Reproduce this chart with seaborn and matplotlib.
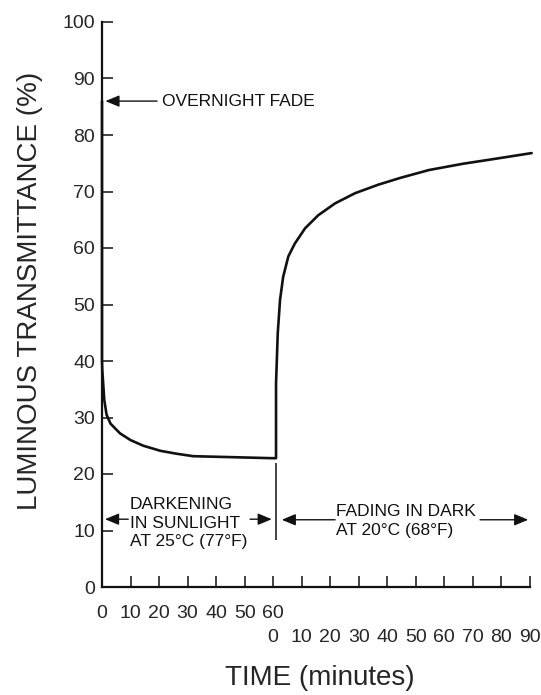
import matplotlib
matplotlib.use("Agg")
import matplotlib.pyplot as plt
import seaborn as sns
import pandas as pd

# ---------------- data ----------------
# darkening in sunlight (minutes 0-60)
dark_time = [0, 0, 0.1, 0.8, 1.6, 3.0, 6.3, 10.0, 14.5, 20.5, 26.0, 32.0, 44.0, 59.5]
dark_trans = [86, 40, 38.4, 33.1, 30.5, 28.9, 27.2, 26.0, 25.0, 24.1, 23.6, 23.15, 23.0, 22.8]
# fading in dark (minutes after the 60-minute exposure)
fade_time = [1.0, 1.0, 1.6, 2.4, 3.5, 5.3, 7.6, 11.2, 15.8, 21.7, 28.7, 36.8, 44.5, 54.6, 66.4, 78.0, 90.6]
fade_trans = [22.8, 36.0, 44.9, 50.8, 54.9, 58.5, 60.8, 63.5, 65.8, 67.9, 69.7, 71.2, 72.4, 73.8, 74.9, 75.8, 76.8]

sun_tick_labels = ["0", "10", "20", "30", "40", "50", "60"]
dark_tick_labels = ["0", "10", "20", "30", "40", "50", "60", "70", "80", "90"]
y_ticks = [0, 10, 20, 30, 40, 50, 60, 70, 80, 90, 100]

sun_text = ["DARKENING", "IN SUNLIGHT", "AT 25°C (77°F)"]
dark_text = ["FADING IN DARK", "AT 20°C (68°F)"]

# ---------------- style ----------------
sns.set_style("white")
plt.rcParams["font.family"] = ["Liberation Sans", "DejaVu Sans"]
plt.rcParams["text.color"] = "#111111"

fig = plt.figure(figsize=(5.41, 6.95), dpi=100)
ax = fig.add_axes([102 / 541, 1 - 587 / 695, (152 * 2.853) / 541, 565 / 695])

df = pd.DataFrame({
    "time": dark_time + [60 + t for t in fade_time],
    "trans": dark_trans + fade_trans,
})
sns.lineplot(data=df, x="time", y="trans", ax=ax, estimator=None, sort=False,
             color="#111111", linewidth=1.9, clip_on=False)

ax.set_xlim(0, 152)
ax.set_ylim(0, 100)

# ticks
n_sun = len(sun_tick_labels)
x_ticks = list(range(0, 10 * (n_sun - 1 + len(dark_tick_labels)), 10))
x_labels = []
for i, _ in enumerate(x_ticks):
    if i < n_sun - 1:
        x_labels.append(sun_tick_labels[i])
    elif i == n_sun - 1:
        x_labels.append(sun_tick_labels[i] + "\n" + dark_tick_labels[0])
    else:
        x_labels.append("\n" + dark_tick_labels[i - (n_sun - 1)])
ax.set_xticks(x_ticks)
ax.set_xticklabels(x_labels, fontsize=14)
for lab in ax.get_xticklabels():
    lab.set_linespacing(1.47)
ax.set_yticks(y_ticks)
ax.set_yticklabels([str(v) for v in y_ticks], fontsize=14)

ax.tick_params(axis="x", bottom=True, direction="in", length=8, width=1.1,
               color="#111111", pad=13.3)
ax.tick_params(axis="y", left=True, direction="in", length=8, width=1.1,
               color="#111111", pad=5)

for s in ["top", "right"]:
    ax.spines[s].set_visible(False)
for s in ["left", "bottom"]:
    ax.spines[s].set_linewidth(1.6)
    ax.spines[s].set_color("#111111")
ax.spines["left"].set_bounds(0, 100)
ax.spines["bottom"].set_bounds(0, 150)

ax.set_xlabel("TIME (minutes)", fontsize=20)
ax.set_ylabel("LUMINOUS TRANSMITTANCE (%)", fontsize=20)
ax.xaxis.set_label_coords(0.5015, -0.138)
ax.yaxis.set_label_coords(-0.136, 0.524)

# annotations
arrow = dict(arrowstyle="-|>,head_length=0.6,head_width=0.25", mutation_scale=14,
             color="#111111", lw=1.0, shrinkA=0, shrinkB=0)
ann_fs = 12.5

ax.annotate("", xy=(1.2, 86), xytext=(19.3, 86), arrowprops=arrow, annotation_clip=False)
ax.text(21, 86, "OVERNIGHT FADE", fontsize=ann_fs, ha="left", va="center")

for txt, yv in zip(sun_text, [14.6, 11.3, 8.05]):
    ax.text(9.8, yv, txt, fontsize=ann_fs, ha="left", va="center")
ax.annotate("", xy=(1.05, 12.0), xytext=(9.2, 12.0), arrowprops=arrow)
ax.annotate("", xy=(59.5, 12.0), xytext=(51.9, 12.0), arrowprops=arrow)

ax.vlines(61.1, 8.3, 22, color="#111111", linewidth=1.1)

for txt, yv in zip(dark_text, [13.4, 10.0]):
    ax.text(82, yv, txt, fontsize=ann_fs, ha="left", va="center")
ax.annotate("", xy=(63, 11.9), xytext=(81.7, 11.9), arrowprops=arrow)
ax.annotate("", xy=(149.4, 11.9), xytext=(132.5, 11.9), arrowprops=arrow, annotation_clip=False)

fig.savefig("out.png", dpi=100)
